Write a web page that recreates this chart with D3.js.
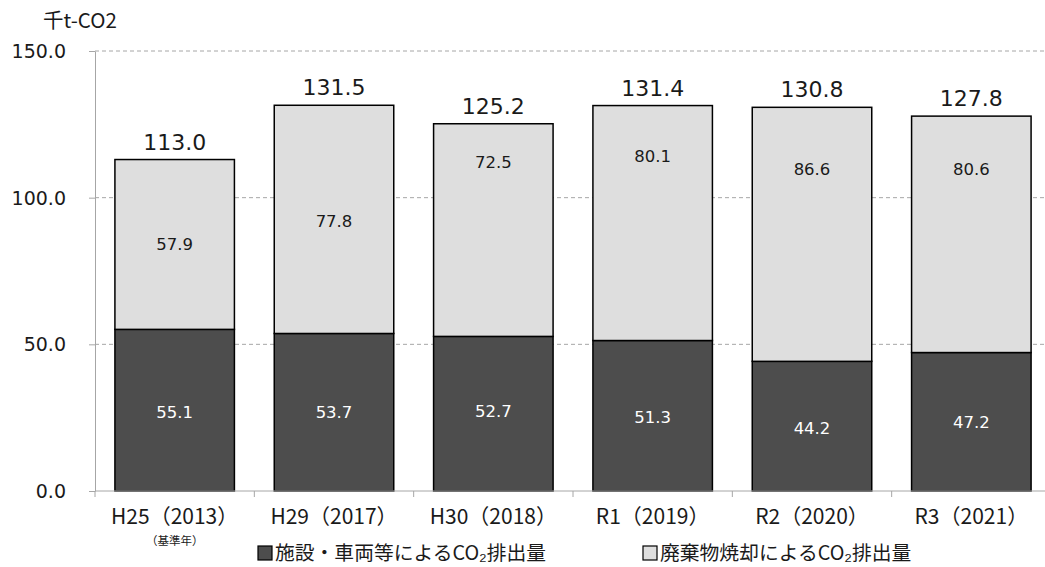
<!DOCTYPE html>
<html><head><meta charset="utf-8">
<script src="https://cdn.jsdelivr.net/npm/d3@7"></script>
<style>body{margin:0;background:#fff;} svg{display:block;} text{font-family:"DejaVu Sans","Noto Sans CJK JP",sans-serif;}</style>
</head><body><svg id="c" width="1045" height="567"></svg>
<script>
const categories = ["H25（2013）","H29（2017）","H30（2018）","R1（2019）","R2（2020）","R3（2021）"];
const facilities = [55.1,53.7,52.7,51.3,44.2,47.2];
const incineration = [57.9,77.8,72.5,80.1,86.6,80.6];
const totals = [113.0,131.5,125.2,131.4,130.8,127.8];
// value-axis level at which each data label sits (as placed in the original)
const facLabelAt = [26.9,26.9,27.1,25.2,21.5,23.3];
const incLabelAt = [84.0,92.1,112.1,114.2,109.7,109.7];
const yTicks = [0,50,100,150];
const seriesNames = ["施設・車両等によるCO₂排出量","廃棄物焼却によるCO₂排出量"];
const colors = ["#4d4d4d","#dedede"];

const svg = d3.select("#c");
const x = d3.scaleBand().domain(categories).range([95,1051]).paddingInner(0.25).paddingOuter(0.125);
const y = d3.scaleLinear().domain([0,150]).range([491,51]);
const jp = '"Noto Sans CJK JP",sans-serif';
const txt = "#1a1a1a";

// gridlines
svg.append("g").selectAll("line").data(yTicks.filter(d=>d>0)).join("line")
  .attr("x1",95).attr("x2",1045).attr("y1",d=>y(d)).attr("y2",d=>y(d))
  .attr("stroke","#a6a6a6").attr("stroke-dasharray","4,3").attr("stroke-width",1);

// y axis
const ya = svg.append("g").attr("transform","translate(95,0)")
  .call(d3.axisLeft(y).tickValues(yTicks).tickFormat(d3.format(".1f")).tickSize(6).tickSizeOuter(0));
ya.select(".domain").attr("stroke","#a6a6a6");
ya.selectAll(".tick line").attr("stroke","#a6a6a6");
ya.selectAll("text").attr("font-size",19).attr("fill",txt).attr("x",-29).attr("dy","0.35em")
  .style("font-family",'"DejaVu Sans",sans-serif');

svg.append("text").attr("x",43).attr("y",28).attr("font-size",20.5).attr("fill",txt)
  .style("font-family",jp).text("千t-CO2");

// bars
const stack = categories.map((c,i)=>({c, a:facilities[i], b:incineration[i], t:totals[i], la:facLabelAt[i], lb:incLabelAt[i]}));
const g = svg.append("g");
g.selectAll("rect.a").data(stack).join("rect")
  .attr("x",d=>x(d.c)).attr("width",x.bandwidth())
  .attr("y",d=>y(d.a)).attr("height",d=>y(0)-y(d.a))
  .attr("fill",colors[0]).attr("stroke","#000").attr("stroke-width",1.5);
g.selectAll("rect.b").data(stack).join("rect")
  .attr("x",d=>x(d.c)).attr("width",x.bandwidth())
  .attr("y",d=>y(d.a+d.b)).attr("height",d=>y(d.a)-y(d.a+d.b))
  .attr("fill",colors[1]).attr("stroke","#000").attr("stroke-width",1.5);

// x axis
const xa = svg.append("g").attr("transform","translate(0,491)");
xa.append("line").attr("x1",95).attr("x2",1045).attr("stroke","#a6a6a6");
const bounds = categories.map(c=>x(c)-x.step()*x.paddingInner()/2).concat([1051]);
xa.selectAll("line.t").data(bounds).join("line").attr("x1",d=>d).attr("x2",d=>d)
  .attr("y1",0).attr("y2",6).attr("stroke","#a6a6a6");

// labels
g.selectAll("text.a").data(stack).join("text")
  .attr("x",d=>x(d.c)+x.bandwidth()/2).attr("y",d=>y(d.la)).attr("dy","0.35em")
  .attr("text-anchor","middle").attr("font-size",16.5).attr("fill","#fff").text(d=>d.a.toFixed(1));
g.selectAll("text.b").data(stack).join("text")
  .attr("x",d=>x(d.c)+x.bandwidth()/2).attr("y",d=>y(d.lb)).attr("dy","0.35em")
  .attr("text-anchor","middle").attr("font-size",16.5).attr("fill",txt).text(d=>d.b.toFixed(1));
g.selectAll("text.t").data(stack).join("text")
  .attr("x",d=>x(d.c)+x.bandwidth()/2).attr("y",d=>y(d.t)-10)
  .attr("text-anchor","middle").attr("font-size",22).attr("fill",txt).text(d=>d.t.toFixed(1));

svg.append("g").selectAll("text").data(categories).join("text")
  .attr("x",d=>x(d)+x.bandwidth()/2).attr("y",524).attr("text-anchor","middle")
  .attr("font-size",21).attr("fill",txt).style("font-family",jp).text(d=>d);
svg.append("text").attr("x",x(categories[0])+x.bandwidth()/2).attr("y",545).attr("text-anchor","middle")
  .attr("font-size",11.5).attr("fill",txt).style("font-family",jp).text("（基準年）");

// legend
const leg = svg.append("g");
const lx = [258, 643];
seriesNames.forEach((n,i)=>{
  leg.append("rect").attr("x",lx[i]).attr("y",546).attr("width",14).attr("height",14)
    .attr("fill",colors[i]).attr("stroke","#000").attr("stroke-width",1.2);
  leg.append("text").attr("x",lx[i]+17).attr("y",560).attr("font-size",19.8).attr("fill",txt)
    .style("font-family",jp).text(n);
});
</script></body></html>
